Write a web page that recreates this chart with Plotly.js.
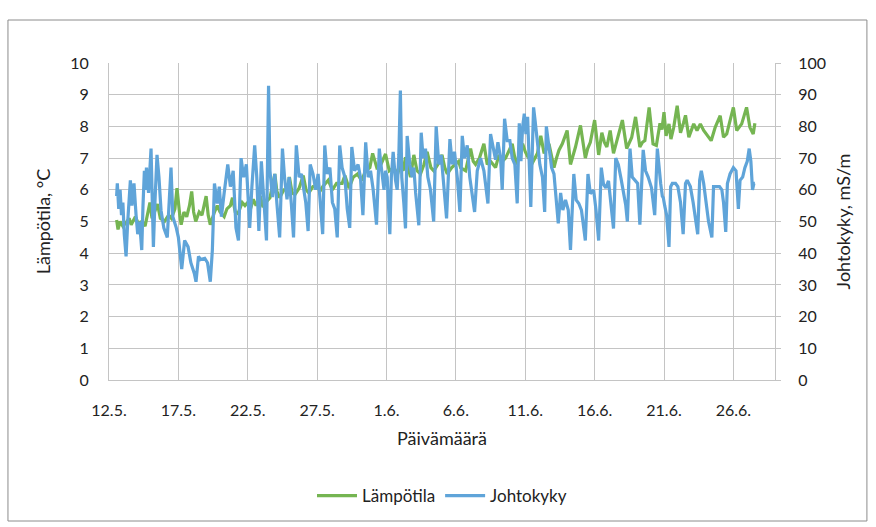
<!DOCTYPE html>
<html>
<head>
<meta charset="utf-8">
<script src="https://cdn.plot.ly/plotly-3.0.1.min.js"></script>
<style>
  html, body { margin: 0; padding: 0; background: #ffffff; }
  #chart { width: 876px; height: 527px; }
</style>
</head>
<body>
<div id="chart"></div>
<script>
// X positions are days since 12.5. (0 = 12.5. 00:00)
const tickDays = [0, 5, 10, 15, 20, 25, 30, 35, 40, 45];
const tickLabels = ['12.5.', '17.5.', '22.5.', '27.5.', '1.6.', '6.6.', '11.6.', '16.6.', '21.6.', '26.6.'];

// Lämpötila (°C), left axis
const tempDays = [
  0.55,0.65,0.8,1.0,1.2,1.45,1.6,1.9,2.1,2.4,2.6,2.8,2.95,3.1,3.3,3.5,3.7,4.0,4.3,4.5,
  4.75,4.9,5.1,5.2,5.4,5.6,5.8,5.96,6.1,6.25,6.5,6.7,6.85,7.0,7.15,7.3,7.6,7.8,8.0,8.3,
  8.5,8.75,8.9,9.1,9.3,9.6,9.8,10.0,10.2,10.4,10.6,10.9,11.1,11.3,11.6,11.95,12.1,12.3,12.6,12.85,
  13.0,13.2,13.4,13.7,14.0,14.2,14.4,14.7,15.0,15.2,15.4,15.8,16.1,16.4,16.8,17.0,17.3,17.6,17.9,18.2,
  18.5,18.8,19.0,19.3,19.6,19.93,20.2,20.53,20.8,21.0,21.2,21.37,21.73,21.97,22.2,22.45,22.7,22.93,23.2,23.41,
  23.7,24.0,24.2,24.38,24.7,24.98,25.2,25.34,25.7,26.06,26.25,26.42,26.7,27.02,27.26,27.5,27.86,28.1,28.35,28.58,
  28.8,29.06,29.25,29.42,29.6,29.81,30.0,30.17,30.52,30.88,31.12,31.36,31.71,31.9,32.07,32.25,32.43,32.67,33.02,33.26,
  33.45,33.62,33.98,34.33,34.5,34.69,35.0,35.29,35.52,35.7,35.88,36.12,36.36,36.5,36.71,37.0,37.31,37.5,37.67,37.95,
  38.26,38.45,38.62,38.93,39.21,39.45,39.71,39.85,40.0,40.15,40.36,40.5,40.7,40.95,41.19,41.4,41.55,41.79,42.0,42.14,
  42.38,42.62,42.86,43.1,43.4,43.69,44.05,44.29,44.52,44.76,45.0,45.24,45.6,45.95,46.19,46.43,46.55
];
const tempVals = [
  5.05,4.75,5.0,4.85,4.95,5.1,4.9,5.15,4.95,5.0,4.85,5.25,5.6,5.1,5.3,5.55,5.1,5.0,5.2,5.1,
  5.4,6.05,5.2,4.9,5.3,5.15,5.5,5.95,5.3,5.0,5.3,5.2,5.5,5.8,5.2,4.9,5.3,5.5,5.3,5.15,
  5.4,5.5,5.75,5.3,5.25,5.6,5.5,5.6,5.4,5.7,5.5,5.8,5.45,5.6,5.75,6.5,5.95,5.75,6.0,6.0,
  6.4,5.9,5.85,6.05,6.45,6.0,5.9,6.1,6.15,5.95,6.1,6.3,6.0,6.2,6.2,6.45,6.05,6.4,6.5,6.3,
  6.6,6.7,7.15,6.7,6.8,7.13,6.6,6.7,6.5,6.8,6.6,7.03,6.4,7.1,6.6,6.5,6.8,7.2,6.7,6.6,
  6.8,7.1,6.7,6.5,6.7,6.8,6.9,6.7,6.6,7.3,6.9,6.8,7.0,7.45,6.8,6.9,6.7,7.1,6.9,7.0,
  7.2,7.45,7.0,6.8,7.3,7.45,7.2,7.05,6.85,7.15,7.7,7.15,7.45,7.0,6.7,7.0,7.25,7.45,7.87,6.8,
  7.1,7.35,8.03,7.0,7.3,7.5,8.2,7.1,7.8,7.5,7.35,7.87,7.15,7.4,7.75,8.2,7.3,7.5,7.65,8.3,
  7.35,7.5,7.55,8.6,7.45,7.4,8.1,7.9,8.45,7.7,8.08,7.6,7.97,8.65,7.8,8.1,8.35,7.66,7.9,8.08,
  7.87,8.08,7.87,7.72,7.55,7.97,8.34,7.66,7.76,8.18,8.6,7.87,8.08,8.6,7.97,7.76,8.1
];

// Johtokyky (mS/m), right axis
const condDays = [
  0.55,0.6,0.7,0.8,0.9,1.0,1.1,1.23,1.35,1.54,1.65,1.8,1.95,2.07,2.2,2.36,2.45,2.55,2.62,2.7,
  2.85,3.03,3.1,3.2,3.3,3.46,3.6,3.75,3.95,4.2,4.47,4.6,4.85,5.0,5.24,5.45,5.7,5.9,6.15,6.27,
  6.45,6.6,6.9,7.1,7.3,7.45,7.6,7.8,7.95,8.1,8.3,8.56,8.75,8.95,9.15,9.33,9.52,9.7,9.9,10.0,
  10.14,10.3,10.5,10.65,10.8,10.98,11.15,11.35,11.5,11.6,11.78,11.95,12.1,12.3,12.5,12.65,12.83,12.98,13.15,13.3,
  13.5,13.7,13.87,14.04,14.18,14.35,14.5,14.7,14.9,15.07,15.25,15.4,15.55,15.72,15.92,16.1,16.27,16.45,16.63,16.8,
  17.0,17.17,17.35,17.5,17.7,17.95,18.12,18.3,18.5,18.68,18.85,19.04,19.28,19.48,19.6,19.72,19.82,19.93,20.05,20.24,
  20.35,20.48,20.65,20.77,20.89,21.0,21.1,21.25,21.37,21.49,21.68,21.85,21.97,22.1,22.33,22.5,22.64,22.81,22.98,23.17,
  23.4,23.58,23.77,23.94,24.13,24.33,24.57,24.74,24.9,25.1,25.29,25.46,25.62,25.82,26.0,26.18,26.35,26.54,26.78,27.02,
  27.31,27.5,27.69,27.86,28.03,28.22,28.34,28.51,28.7,28.89,29.06,29.25,29.42,29.57,29.69,29.81,29.93,30.05,30.17,30.29,
  30.4,30.52,30.6,30.71,30.88,31.05,31.24,31.4,31.52,31.71,31.9,32.07,32.24,32.38,32.55,32.71,32.9,33.1,33.26,33.38,
  33.5,33.67,33.86,34.05,34.33,34.52,34.69,34.93,35.1,35.29,35.48,35.64,35.81,36.0,36.19,36.36,36.52,36.71,36.9,37.07,
  37.24,37.36,37.55,37.71,37.9,38.1,38.26,38.5,38.67,38.86,39.1,39.33,39.52,39.64,39.76,39.88,39.95,40.05,40.19,40.36,
  40.48,40.6,40.83,41.0,41.19,41.38,41.55,41.67,41.9,42.1,42.26,42.43,42.57,42.69,42.86,43.05,43.21,43.45,43.57,43.76,
  44.0,44.17,44.29,44.45,44.57,44.76,45.0,45.19,45.36,45.48,45.67,45.83,46.0,46.14,46.26,46.38,46.48,46.55
];
const condVals = [
  58,62,54,60,52,56,46,39,50,63,55,62,52,46,50,41,55,66,60,67,
  59,73,60,42,55,71,64,53.5,48,45,67,51.5,48,45,35,44,42,37,33.6,31,
  39,38,38.4,37,31,41,62,55.7,61,51.5,59,68,61,66,48,44,70,64,68,61,
  48,61,74,64,47,69,57.8,44,92.8,66,57.7,65,55.7,45,73,64,57,64,55,45,
  74,64,65,60,56,47,68,65,60,65,56,46,74,65,67,56,54,45,74,67,
  64,54,48,73.5,66,68,64,52,75,64,66,60,49,73,68,63,60,66,64,46,
  64,72,63,60,71,91.3,64,55.7,47.8,77,68,64,67,59,48.8,78,70,73,64,60,
  50,80,68,71,61,51,76,68,72,64,53,77,70,74,64,59,53,66,70,66,
  55.7,77.6,73.5,69.5,75,70,60,82.4,75.5,75.5,70,68,55.7,81,69,79.8,84,77.6,83,69,
  54.6,74,86,81.8,74,68,64,53,80,72.6,67,65,55.7,49.4,59,53.6,56.8,53.6,41,53.6,
  65,56.8,55.7,53.6,44,65,58.8,59.9,53.6,44,67,61.7,60.6,62.8,55.7,47.8,70,67.9,63.6,59.4,
  55.2,50,73,64,63,62,49,72.6,66,64,60.6,52,73,66,62,58,57.5,55,52,42,
  61,62,62,61,56,46,62,63,61,56,50.5,46,63,66,62,56,50,45,61,61,
  61,60,56,46.7,62,65,67,66,54,63,64,67,69,73,69,60,62,62
];

const seriesNames = ['Lämpötila', 'Johtokyky'];
const leftTitle = 'Lämpötila, °C';
const rightTitle = 'Johtokyky, mS/m';
const xTitle = 'Päivämäärä';

const FONT = 'Lato, "Open Sans", sans-serif';
const GRID = '#C4C4C4';
const TXT = '#222222';

const traces = [
  {
    x: tempDays, y: tempVals, name: seriesNames[0], type: 'scatter', mode: 'lines',
    line: { color: '#75B552', width: 3.2 }, yaxis: 'y', hoverinfo: 'skip'
  },
  {
    x: condDays, y: condVals, name: seriesNames[1], type: 'scatter', mode: 'lines',
    line: { color: '#5FA4D9', width: 3.2 }, yaxis: 'y2', hoverinfo: 'skip'
  }
];

const layout = {
  width: 876, height: 527,
  margin: { l: 109, r: 101, t: 63, b: 147 },
  paper_bgcolor: '#ffffff', plot_bgcolor: '#ffffff',
  font: { family: FONT, size: 16, color: TXT },
  showlegend: true,
  legend: {
    orientation: 'h', x: 0.5, xanchor: 'center', y: -0.366, yanchor: 'middle',
    font: { family: FONT, size: 17, color: TXT }, itemwidth: 40, traceorder: 'normal'
  },
  xaxis: {
    range: [0, 48], tickmode: 'array', tickvals: tickDays, ticktext: tickLabels,
    showgrid: true, gridcolor: GRID, gridwidth: 1,
    showline: true, linecolor: GRID, linewidth: 1, zeroline: false,
    ticks: '', ticklabelstandoff: 16,
    tickfont: { family: FONT, size: 16, color: TXT },
    title: { text: xTitle, font: { family: FONT, size: 18, color: TXT }, standoff: 14 }
  },
  yaxis: {
    range: [0, 10], dtick: 1, tick0: 0,
    showgrid: true, gridcolor: GRID, gridwidth: 1,
    showline: true, linecolor: GRID, linewidth: 1, zeroline: false,
    ticks: '', ticklabelstandoff: 16,
    tickfont: { family: FONT, size: 16, color: TXT },
    title: { text: leftTitle, font: { family: FONT, size: 18, color: TXT }, standoff: 14 }
  },
  yaxis2: {
    range: [0, 100], dtick: 10, tick0: 0, overlaying: 'y', side: 'right',
    showgrid: false, showline: true, linecolor: GRID, linewidth: 1, zeroline: false,
    ticks: 'outside', ticklen: 5, tickcolor: GRID, ticklabelstandoff: 14,
    tickfont: { family: FONT, size: 16, color: TXT },
    title: { text: rightTitle, font: { family: FONT, size: 18, color: TXT }, standoff: 12 }
  },
  shapes: [{
    type: 'rect', xref: 'paper', yref: 'paper',
    x0: -0.1517, x1: 1.138, y0: -0.4448, y1: 1.1356,
    line: { color: '#8C8C8C', width: 1 }, fillcolor: 'rgba(0,0,0,0)', layer: 'below'
  }]
};

Plotly.newPlot('chart', traces, layout, { staticPlot: true, displayModeBar: false });
</script>
</body>
</html>
